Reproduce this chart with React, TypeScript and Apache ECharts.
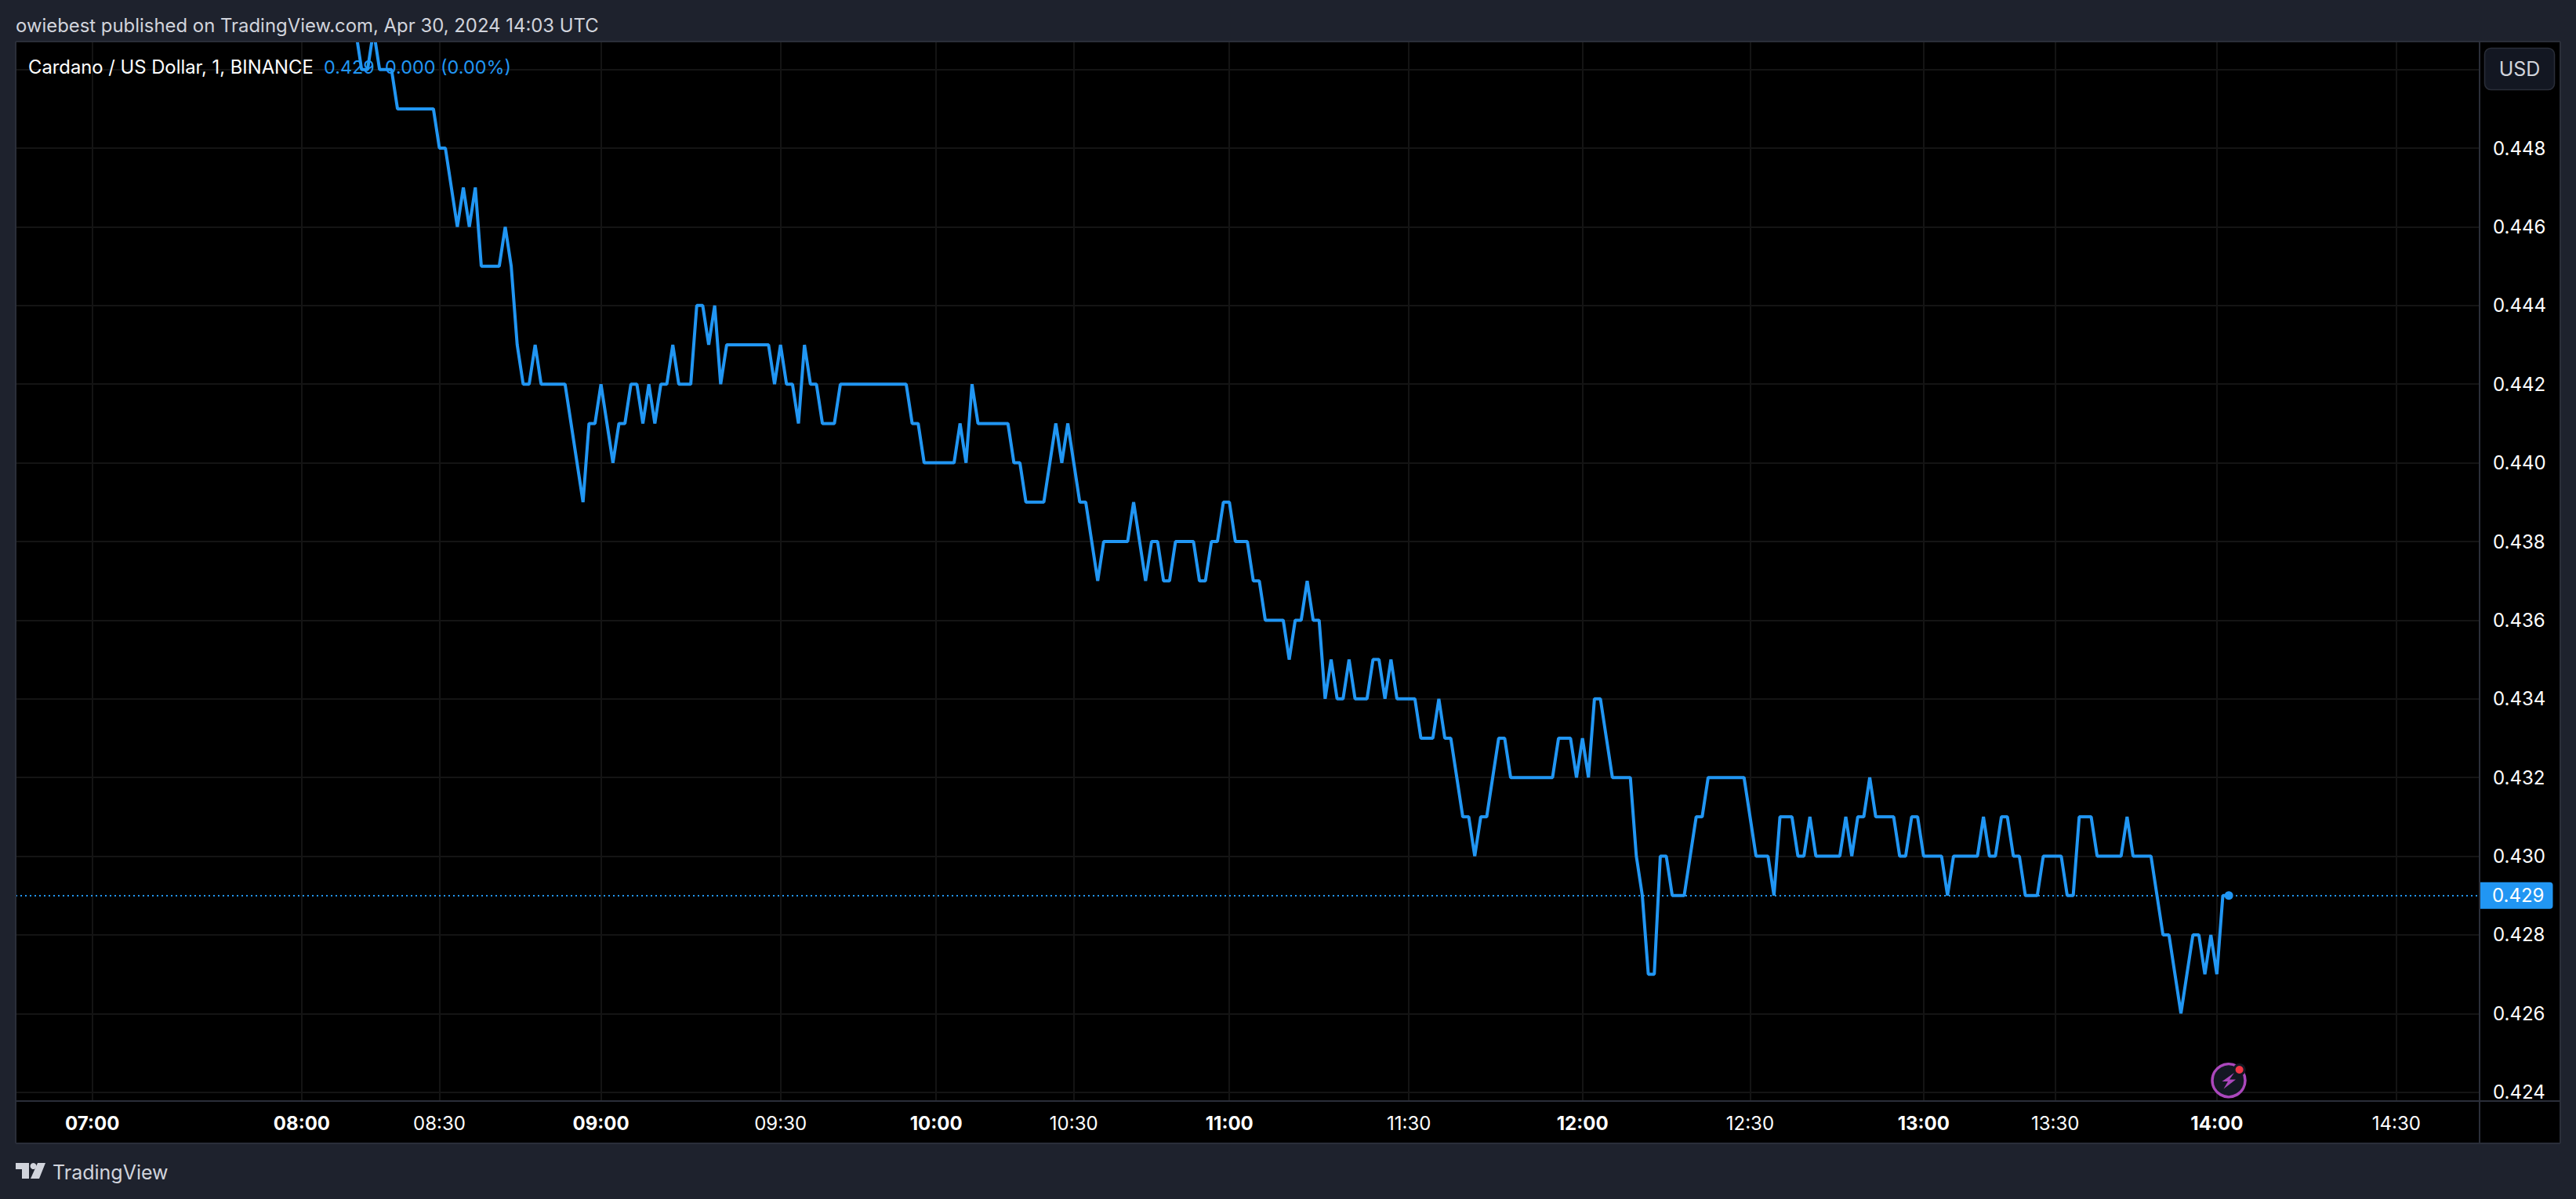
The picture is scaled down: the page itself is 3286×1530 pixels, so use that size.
import React, { useEffect, useRef } from "react";
import * as echarts from "echarts";

const FONT = "Inter";
const headerText = "owiebest published on TradingView.com, Apr 30, 2024 14:03 UTC";
const legendName = "Cardano / US Dollar, 1, BINANCE";
const legendValues = "0.429  0.000 (0.00%)";
const brandText = "TradingView";
const currencyText = "USD";
const lastPriceLabel = "0.429";

const priceTicks = [0.424, 0.426, 0.428, 0.43, 0.432, 0.434, 0.436, 0.438, 0.44, 0.442, 0.444, 0.446, 0.448];
const priceGridOnly = [0.45];
const timeTickBars = [-44, -9, 14, 41, 71, 97, 120, 146, 176, 205, 233, 262, 284, 311, 341];
const timeTickLabels = ["07:00", "08:00", "08:30", "09:00", "09:30", "10:00", "10:30", "11:00", "11:30", "12:00", "12:30", "13:00", "13:30", "14:00", "14:30"];

const prices = [
  0.451, 0.45, 0.45, 0.451, 0.45, 0.45, 0.45, 0.449, 0.449, 0.449, 0.449, 0.449, 0.449, 0.449, 0.448, 0.448,
  0.447, 0.446, 0.447, 0.446, 0.447, 0.445, 0.445, 0.445, 0.445, 0.446, 0.445, 0.443, 0.442, 0.442, 0.443,
  0.442, 0.442, 0.442, 0.442, 0.442, 0.441, 0.44, 0.439,
  0.441, 0.441, 0.442, 0.441, 0.44, 0.441, 0.441, 0.442, 0.442, 0.441, 0.442, 0.441, 0.442, 0.442, 0.443,
  0.442, 0.442, 0.442, 0.444, 0.444,
  0.443, 0.444, 0.442, 0.443, 0.443, 0.443, 0.443, 0.443, 0.443, 0.443, 0.443,
  0.442, 0.443, 0.442, 0.442, 0.441, 0.443, 0.442, 0.442, 0.441, 0.441, 0.441,
  0.442, 0.442, 0.442, 0.442, 0.442, 0.442, 0.442, 0.442, 0.442, 0.442, 0.442, 0.442,
  0.441, 0.441, 0.44, 0.44, 0.44, 0.44, 0.44, 0.44, 0.441, 0.44, 0.442,
  0.441, 0.441, 0.441, 0.441, 0.441, 0.441, 0.44, 0.44, 0.439, 0.439, 0.439, 0.439,
  0.44, 0.441, 0.44, 0.441, 0.44,
  0.439, 0.439, 0.438, 0.437, 0.438, 0.438, 0.438, 0.438, 0.438, 0.439, 0.438, 0.437, 0.438, 0.438,
  0.437, 0.437, 0.438, 0.438, 0.438, 0.438, 0.437, 0.437, 0.438, 0.438, 0.439, 0.439,
  0.438, 0.438, 0.438, 0.437, 0.437, 0.436, 0.436, 0.436, 0.436, 0.435, 0.436, 0.436, 0.437, 0.436, 0.436,
  0.434, 0.435, 0.434, 0.434, 0.435, 0.434, 0.434, 0.434, 0.435, 0.435, 0.434, 0.435,
  0.434, 0.434, 0.434, 0.434, 0.433, 0.433, 0.433, 0.434,
  0.433, 0.433, 0.432, 0.431, 0.431, 0.43, 0.431, 0.431, 0.432, 0.433, 0.433,
  0.432, 0.432, 0.432, 0.432, 0.432, 0.432, 0.432, 0.432, 0.433, 0.433, 0.433, 0.432, 0.433, 0.432,
  0.434, 0.434, 0.433, 0.432, 0.432, 0.432, 0.432, 0.43, 0.429, 0.427, 0.427, 0.43, 0.43,
  0.429, 0.429, 0.429, 0.43, 0.431, 0.431, 0.432, 0.432, 0.432, 0.432, 0.432, 0.432, 0.432,
  0.431, 0.43, 0.43, 0.43, 0.429, 0.431, 0.431, 0.431, 0.43, 0.43, 0.431, 0.43,
  0.43, 0.43, 0.43, 0.43, 0.431, 0.43, 0.431, 0.431, 0.432, 0.431, 0.431, 0.431, 0.431, 0.43, 0.43,
  0.431, 0.431, 0.43, 0.43, 0.43, 0.43, 0.429, 0.43, 0.43, 0.43, 0.43, 0.43, 0.431, 0.43, 0.43,
  0.431, 0.431, 0.43, 0.43, 0.429, 0.429, 0.429, 0.43, 0.43, 0.43, 0.43, 0.429, 0.429,
  0.431, 0.431, 0.431, 0.43, 0.43, 0.43, 0.43, 0.43, 0.431, 0.43, 0.43, 0.43, 0.43, 0.429,
  0.428, 0.428, 0.427, 0.426, 0.427, 0.428, 0.428, 0.427, 0.428, 0.427, 0.429, 0.429,
];

const BLUE = "#2196f3";
const PANEL = "#1e222d";
const BORDER = "#2a2e39";
const GRID = "#141414";
const MUTED = "#d1d4dc";

export default function App() {
  const ref = useRef<HTMLDivElement>(null);
  useEffect(() => {
    if (!ref.current) return;
    const chart = echarts.init(ref.current, undefined, { renderer: "svg" });
    const hourLabels = new Set(timeTickLabels.filter((t) => t.endsWith(":00")));
    const labelByBar = new Map(timeTickBars.map((b, i) => [b, timeTickLabels[i]]));
    const lastBar = prices.length - 1;
    const lastPrice = prices[lastBar];
    const text = (t: string, x: number, y: number, fill: string, fontSize: number, extra: any = {}) => ({
      type: "text",
      z: 50,
      style: { text: t, x, y, fill, fontSize, fontFamily: FONT, textVerticalAlign: "middle", ...extra },
    });
    const hline = (x1: number, y: number, x2: number) => ({
      type: "line", z: 40, shape: { x1, y1: y, x2, y2: y }, style: { stroke: BORDER, lineWidth: 2 },
    });
    const vline = (x: number, y1: number, y2: number) => ({
      type: "line", z: 40, shape: { x1: x, y1, x2: x, y2 }, style: { stroke: BORDER, lineWidth: 2 },
    });
    chart.setOption({
      animation: false,
      backgroundColor: PANEL,
      grid: { left: 20, top: 54, width: 3143, height: 1351, containLabel: false },
      xAxis: {
        type: "value",
        min: -56.8,
        max: 354.9,
        axisLine: { show: false },
        axisTick: { show: false, customValues: timeTickBars },
        splitLine: { show: true, lineStyle: { color: GRID, width: 2 } },
        axisLabel: {
          customValues: timeTickBars,
          margin: 16,
          hideOverlap: false,
          formatter: (v: number) => {
            const s = labelByBar.get(v) ?? "";
            return hourLabels.has(s) ? `{b|${s}}` : `{n|${s}}`;
          },
          rich: {
            b: { fontFamily: FONT, fontSize: 24, fontWeight: 700, color: "#ffffff" },
            n: { fontFamily: FONT, fontSize: 24, color: "#ffffff" },
          },
        },
      },
      yAxis: {
        type: "value",
        position: "right",
        min: 0.423775,
        max: 0.450691,
        axisLine: { show: false },
        axisTick: { show: false, customValues: [...priceTicks, ...priceGridOnly] },
        splitLine: { show: true, lineStyle: { color: GRID, width: 2 } },
        axisLabel: {
          customValues: priceTicks,
          margin: 17,
          color: "#ffffff",
          fontFamily: FONT,
          fontSize: 24,
          showMinLabel: true,
          showMaxLabel: true,
          formatter: (v: number) => v.toFixed(3),
        },
      },
      series: [
        {
          type: "line",
          data: prices.map((p, i) => [i, p]),
          symbol: "none",
          lineStyle: { color: BLUE, width: 4 },
          itemStyle: { color: BLUE },
          silent: true,
          markLine: {
            silent: true,
            symbol: "none",
            animation: false,
            precision: 3,
            lineStyle: { color: BLUE, width: 2, type: [2, 4], opacity: 1 },
            label: {
              show: true,
              position: "end",
              distance: -1,
              formatter: lastPriceLabel,
              color: "#ffffff",
              fontFamily: FONT,
              fontSize: 24,
              backgroundColor: BLUE,
              borderRadius: [0, 4, 4, 0],
              padding: [5, 11, 5, 17],
            },
            data: [{ yAxis: lastPrice }],
          },
          markPoint: {
            silent: true,
            animation: false,
            symbol: "circle",
            symbolSize: 11,
            itemStyle: { color: BLUE },
            label: { show: false },
            data: [{ coord: [lastBar, lastPrice] }],
          },
        },
      ],
      graphic: [
        { type: "rect", z: -100, shape: { x: 20, y: 53, width: 3246, height: 1406 }, style: { fill: "#000000" } },
        hline(20, 53, 3266),
        hline(20, 1405, 3266),
        hline(20, 1459, 3266),
        vline(20, 53, 1459),
        vline(3163, 53, 1459),
        vline(3266, 53, 1459),
        text(headerText, 20, 32, MUTED, 23.9),
        text(legendName, 36, 85, "#ffffff", 23.8),
        text(legendValues, 413, 85, BLUE, 23.4),
        { type: "rect", z: 50, shape: { x: 3169.5, y: 61.5, width: 89, height: 53, r: 8 }, style: { fill: "#131722", stroke: BORDER, lineWidth: 1.5 } },
        text(currencyText, 3214, 88, MUTED, 25, { textAlign: "center" }),
        // event badge
        { type: "circle", z: 60, shape: { cx: 2843, cy: 1378.7, r: 21 }, style: { fill: "#131722", stroke: "#ab47bc", lineWidth: 3.5 } },
        { type: "polygon", z: 61, shape: { points: [[2850, 1369], [2834.5, 1380], [2842, 1380], [2836.5, 1389.5], [2852, 1377.5], [2844, 1377.5]] }, style: { fill: "#ab47bc" } },
        { type: "circle", z: 62, shape: { cx: 2856.6, cy: 1365, r: 8 }, style: { fill: "#131722" } },
        { type: "circle", z: 63, shape: { cx: 2856.6, cy: 1365, r: 5 }, style: { fill: "#f23645" } },
        // TradingView mark
        { type: "polygon", z: 50, shape: { points: [[20, 1484], [37, 1484], [37, 1504], [28, 1504], [28, 1492], [20, 1492]] }, style: { fill: MUTED } },
        { type: "circle", z: 50, shape: { cx: 42.5, cy: 1488, r: 4 }, style: { fill: MUTED } },
        { type: "polygon", z: 50, shape: { points: [[48, 1484], [58, 1484], [50, 1504], [39, 1504]] }, style: { fill: MUTED } },
        text(brandText, 67, 1496, MUTED, 25),
      ],
    });
    return () => chart.dispose();
  }, []);
  return <div ref={ref} style={{ position: "absolute", left: 0, top: 0, width: 3286, height: 1530 }} />;
}
